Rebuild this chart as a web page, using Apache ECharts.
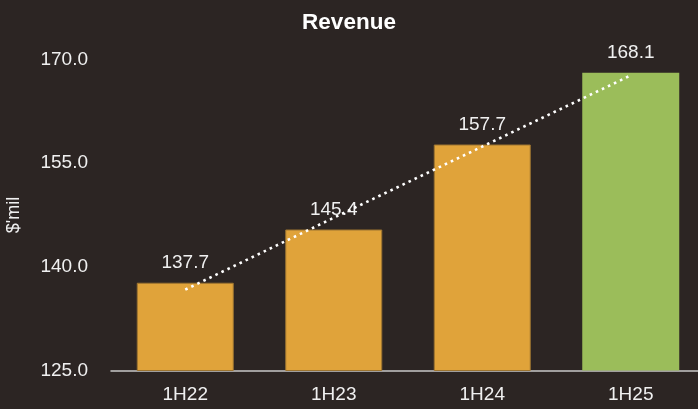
<!DOCTYPE html>
<html>
<head>
<meta charset="utf-8">
<script src="https://cdn.jsdelivr.net/npm/echarts@6/dist/echarts.min.js"></script>
<style>
  html, body { margin: 0; padding: 0; background: #2c2523; }
  #main { width: 698px; height: 409px; }
</style>
</head>
<body>
<div id="main"></div>
<script>
// data
var periods = ['1H22', '1H23', '1H24', '1H25'];
var revenue = [137.7, 145.4, 157.7, 168.1];
var barColors = ['#e0a33a', '#e0a33a', '#e0a33a', '#9bbd5a'];
var trend = [136.7, 147.1, 157.4, 167.7];   // dotted trend line, estimated

var myChart = echarts.init(document.getElementById('main'));
var font = 'Liberation Sans, Arial, sans-serif';

var option = {
  backgroundColor: '#2c2523',
  animation: false,
  title: {
    text: 'Revenue',
    left: 'center',
    top: 6,
    textStyle: { color: '#ffffff', fontSize: 22.5, fontWeight: 'bold', fontFamily: font }
  },
  grid: { left: 111, top: 59.5, width: 594, height: 311, outerBoundsMode: 'none', containLabel: false },
  xAxis: {
    type: 'category',
    data: periods,
    axisLine: { lineStyle: { color: '#c8c8c8', width: 1.5 } },
    axisTick: { show: false },
    axisLabel: { color: '#f0f0f0', fontSize: 19, fontFamily: font, margin: 15 }
  },
  yAxis: {
    type: 'value',
    min: 125,
    max: 170,
    interval: 15,
    name: "$'mil",
    nameLocation: 'middle',
    nameRotate: 90,
    nameGap: 88,
    nameTextStyle: { color: '#f0f0f0', fontSize: 18, fontFamily: font },
    axisLine: { show: false },
    axisTick: { show: false },
    splitLine: { show: false },
    axisLabel: {
      color: '#f0f0f0', fontSize: 19, fontFamily: font, margin: 23,
      formatter: function (v) { return v.toFixed(1); }
    }
  },
  series: [
    {
      name: 'Revenue',
      type: 'bar',
      barWidth: 97,
      data: revenue.map(function (v, i) {
        return {
          value: v,
          itemStyle: {
            color: barColors[i],
            borderColor: i < 3 ? '#9c7430' : barColors[i],
            borderWidth: i < 3 ? 1 : 0
          }
        };
      }),
      label: {
        show: true,
        position: 'top',
        distance: 10,
        color: '#f0f0f0',
        fontSize: 19,
        fontFamily: font,
        formatter: function (p) { return p.value.toFixed(1); }
      }
    },
    {
      name: 'Trend',
      type: 'line',
      data: trend,
      symbol: 'none',
      silent: true,
      z: 5,
      lineStyle: { color: '#ffffff', width: 2.6, type: [2.6, 4.1] }
    }
  ]
};
myChart.setOption(option);
</script>
</body>
</html>
